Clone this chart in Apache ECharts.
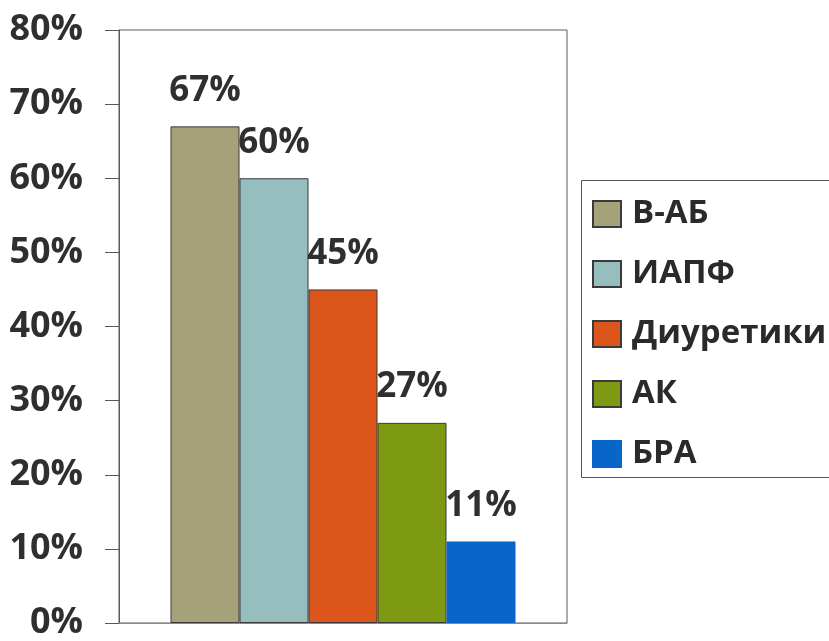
<!DOCTYPE html>
<html>
<head>
<meta charset="utf-8">
<script src="https://cdn.jsdelivr.net/npm/echarts@6/dist/echarts.min.js"></script>
<style>
  html, body { margin: 0; padding: 0; background: #ffffff; }
  #chart { width: 829px; height: 641px; }
</style>
</head>
<body>
<div id="chart"></div>
<script>
// Share of patients per drug class, percent
const seriesNames = ['В-АБ', 'ИАПФ', 'Диуретики', 'АК', 'БРА'];
const seriesValues = [67, 60, 45, 27, 11];
const seriesColors = ['#A5A27A', '#97BEBE', '#DC561C', '#7E9A12', '#0866C8'];
const categories = [''];
const yTicks = { min: 0, max: 80, interval: 10 };

const FONT = '"Open Sans", "Liberation Sans", sans-serif';

const series = seriesNames.map((name, i) => ({
  name: name,
  type: 'bar',
  data: [seriesValues[i]],
  barWidth: 69,
  barGap: '0%',
  itemStyle: {
    color: seriesColors[i],
    borderColor: i === 4 ? seriesColors[i] : '#3a3a3a',
    borderWidth: 1
  },
  label: {
    show: true,
    position: 'top',
    distance: 18,
    formatter: '{c}%',
    fontFamily: FONT,
    fontWeight: 'bold',
    fontSize: 35,
    color: '#2f2f2f'
  }
}));

const chart = echarts.init(document.getElementById('chart'), null, { renderer: 'canvas' });
chart.setOption({
  backgroundColor: '#ffffff',
  animation: false,
  grid: {
    left: 119, right: 262, top: 30, bottom: 13,
    show: true, borderColor: '#5a5a5a', borderWidth: 1,
    backgroundColor: '#ffffff'
  },
  // Legend frame runs off the right edge of the canvas
  graphic: [{
    type: 'rect',
    z: -1,
    shape: { x: 581.5, y: 180.5, width: 280, height: 297 },
    style: { fill: '#ffffff', stroke: '#555555', lineWidth: 1 }
  }],
  legend: {
    orient: 'vertical',
    left: 581, top: 180,
    padding: [17, 4, 6, 11],
    itemGap: 26,
    itemWidth: 28,
    itemHeight: 26,
    icon: 'rect',
    textStyle: {
      fontFamily: FONT,
      fontWeight: 'bold',
      fontSize: 33,
      lineHeight: 34,
      color: '#2a2a2a',
      padding: [0, 0, 0, 6]
    },
    data: seriesNames
  },
  xAxis: {
    type: 'category',
    data: categories,
    axisLine: { lineStyle: { color: '#8a8a8a', width: 1 } },
    axisTick: { show: false },
    axisLabel: { show: false }
  },
  yAxis: {
    type: 'value',
    min: yTicks.min, max: yTicks.max, interval: yTicks.interval,
    axisLine: { show: true, lineStyle: { color: '#5a5a5a', width: 1 } },
    axisTick: { show: true, inside: false, length: 14, lineStyle: { color: '#5a5a5a' } },
    splitLine: { show: false },
    axisLabel: {
      margin: 36,
      padding: [8, 0, 0, 0],
      formatter: '{value}%',
      fontFamily: FONT,
      fontWeight: 'bold',
      fontSize: 36,
      color: '#2f2f2f'
    }
  },
  series: series
});
</script>
</body>
</html>
